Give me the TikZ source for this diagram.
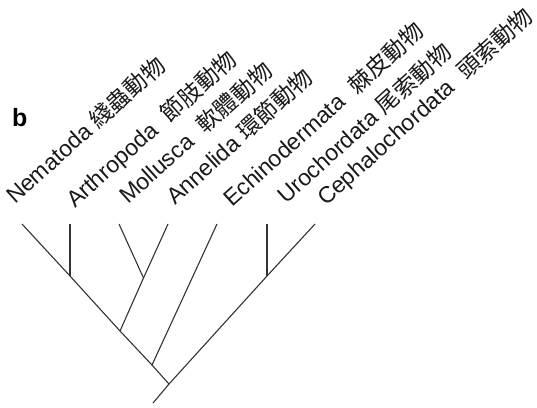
\documentclass[tikz,border=0pt]{standalone}
\usepackage{fontspec}
\setmainfont{Liberation Sans}
\newfontfamily\cjkfont{Noto Sans CJK TC}
\usetikzlibrary{positioning}

\newcommand{\wgap}{\hspace{0.6em}}
\tikzset{
  branch/.style={line width=1.1pt,draw=black!80},
  taxon/.style={anchor=base west,inner sep=0pt,rotate=42,
    font=\fontsize{23}{27}\selectfont,text=black!90},
}

\begin{document}
\begin{tikzpicture}[x=1pt,y=-1pt]
  \useasboundingbox (0,0) rectangle (537,407);
  % tips of the tree
  \coordinate (nem) at (22,224);
  \coordinate (art) at (70,224);
  \coordinate (mol) at (119,224);
  \coordinate (ann) at (168,224);
  \coordinate (ech) at (217,224);
  \coordinate (uro) at (267,224);
  \coordinate (cep) at (315,224);
  % inner nodes
  \coordinate (artj) at (70,276);
  \coordinate (molj) at (143.5,278);
  \coordinate (lopj) at (120,331);
  \coordinate (echj) at (152,365);
  \coordinate (uroj) at (267,276);
  \coordinate (root) at (169,384);
  \coordinate (stem) at (153,403);
  % branches
  \draw[branch] (nem)--(artj);
  \draw[branch] (artj)--(lopj);
  \draw[branch] (lopj)--(echj);
  \draw[branch] (echj)--(root);
  \draw[branch] (art)--(artj);
  \draw[branch] (mol)--(molj);
  \draw[branch] (ann)--(molj);
  \draw[branch] (molj)--(lopj);
  \draw[branch] (ech)--(echj);
  \draw[branch] (cep)--(uroj);
  \draw[branch] (uroj)--(root);
  \draw[branch] (uro)--(uroj);
  \draw[branch] (root)--(stem);
  % labels
  \node[anchor=base west,inner sep=0pt,font=\bfseries\fontsize{25}{28}\selectfont]
    (panel) at (12,126) {b};
  \node[taxon] (nemlab) at (15,205) {Nematoda {\cjkfont 綫蟲動物}};
  \node[taxon] (artlab) at (75,209) {Arthropoda\wgap{\cjkfont 節肢動物}};
  \node[taxon] (mollab) at (128,205) {Mollusca\wgap{\cjkfont 軟體動物}};
  \node[taxon] (annlab) at (175,206) {Annelida {\cjkfont 環節動物}};
  \node[taxon] (echlab) at (232,208) {Echinodermata\wgap{\cjkfont 棘皮動物}};
  \node[taxon] (urolab) at (286,205) {Urochordata {\cjkfont 尾索動物}};
  \node[taxon] (ceplab) at (326,207) {Cephalochordata\wgap{\cjkfont 頭索動物}};
\end{tikzpicture}
\end{document}
